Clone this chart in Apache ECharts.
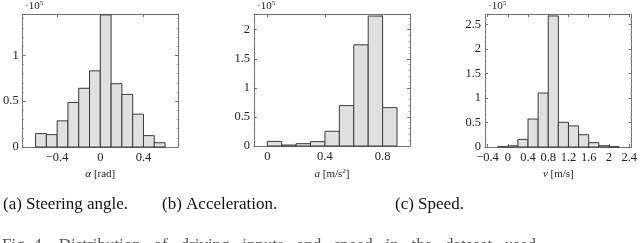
<!DOCTYPE html>
<html><head><meta charset="utf-8">
<script src="https://cdn.jsdelivr.net/npm/echarts@6/dist/echarts.min.js"></script>
<style>html,body{margin:0;padding:0;background:#fff}#c{width:640px;height:243px}</style>
</head><body><div id="c"></div>
<script>
// Steering angle histogram (counts in 1e5)
const steerEdges = [-0.6,-0.5,-0.4,-0.3,-0.2,-0.1,0,0.1,0.2,0.3,0.4,0.5,0.6];
const steerCounts = [0.146,0.135,0.285,0.485,0.64,0.83,1.44,0.69,0.573,0.358,0.124,0.047];
const steerTicks = [-0.4,0,0.4];
// Acceleration histogram
const accEdges = [0,0.1,0.2,0.3,0.4,0.5,0.6,0.7,0.8,0.9];
const accCounts = [0.08,0.017,0.04,0.075,0.253,0.695,1.74,2.235,0.66];
const accTicks = [0,0.4,0.8];
// Speed histogram
const spdEdges = [-0.2,0,0.2,0.4,0.6,0.8,1.0,1.2,1.4,1.6,1.8,2.0,2.2];
const spdCounts = [0.005,0.025,0.156,0.57,1.10,2.67,0.503,0.43,0.25,0.088,0.027,0.007];
const spdTicks = [-0.4,0,0.4,0.8,1.2,1.6,2,2.4];

const yTicksStep = 0.5;
const captions = ['(a) Steering angle.','(b) Acceleration.','(c) Speed.'];

function bins(edges, counts){ return counts.map((c,i)=>[edges[i],edges[i+1],c]); }
function fmt(v){ if (Math.abs(v)<1e-9) return '0'; return String(+v.toFixed(2)).replace('-','\u2212'); }

const panels = [
  {grid:{left:22,top:14,width:156,height:133}, xmin:-0.72, xmax:0.72, ymax:1.45, ticks:steerTicks, data:bins(steerEdges,steerCounts), name:'{i|α} [rad]'},
  {grid:{left:254,top:14,width:156,height:132}, xmin:-0.092, xmax:0.99, ymax:2.27, ticks:accTicks, data:bins(accEdges,accCounts), name:'{i|a} [m/s{sup|2}]'},
  {grid:{left:485,top:14,width:150,height:133}, xmin:-0.45, xmax:2.45, ymax:2.71, ticks:spdTicks, data:bins(spdEdges,spdCounts), name:'{i|v} [m/s]'}
];

const lineCol = '#707070';
const labelFont = {fontFamily:'Liberation Serif', fontSize:12.5, color:'#222'};
const grids=[], xAxes=[], yAxes=[], series=[], graphics=[];
panels.forEach((p,k)=>{
  grids.push(Object.assign({containLabel:false}, p.grid));
  const xBase = {gridIndex:k, type:'value', min:p.xmin, max:p.xmax,
    axisLine:{show:true,onZero:false,lineStyle:{color:lineCol,width:1}},
    axisTick:{show:true,inside:true,length:3,customValues:p.ticks,lineStyle:{color:lineCol}},
    splitLine:{show:false}};
  xAxes.push(Object.assign({}, xBase, {position:'bottom',
    axisLabel:Object.assign({show:true,margin:4,customValues:p.ticks,formatter:fmt}, labelFont),
    name:p.name, nameLocation:'middle', nameGap:19,
    nameTextStyle:{fontFamily:'Liberation Serif', fontSize:11, color:'#222',
      rich:{i:{fontFamily:'Liberation Serif',fontStyle:'italic',fontSize:11,color:'#222'},
            sup:{fontFamily:'Liberation Serif',fontSize:7,color:'#222',verticalAlign:'top',padding:[0,0,6,0]}}}}));
  xAxes.push(Object.assign({}, xBase, {position:'top', axisLabel:{show:false}}));
  const yBase = {gridIndex:k, type:'value', min:0, max:p.ymax, interval:yTicksStep,
    axisLine:{show:true,onZero:false,lineStyle:{color:lineCol,width:1}},
    axisTick:{show:true,inside:true,length:3,lineStyle:{color:lineCol}},
    minorTick:{show:true,splitNumber:5,length:1.5,lineStyle:{color:'#aaa'}},
    splitLine:{show:false}};
  yAxes.push(Object.assign({}, yBase, {position:'left',
    axisLabel:Object.assign({show:true,margin:4,showMaxLabel:false,formatter:fmt}, labelFont)}));
  yAxes.push(Object.assign({}, yBase, {position:'right', axisLabel:{show:false}}));
  series.push({type:'custom', xAxisIndex:2*k, yAxisIndex:2*k, data:p.data, encode:{x:[0,1],y:2},
    renderItem:function(params, api){
      const a = api.coord([api.value(0),0]);
      const b = api.coord([api.value(1),api.value(2)]);
      return {type:'rect', shape:{x:a[0], y:b[1], width:b[0]-a[0], height:a[1]-b[1]},
        style:{fill:'#e0e0e0', stroke:'#3a3a3a', lineWidth:1}};
    }});
  graphics.push({type:'text', left:p.grid.left+3, top:0,
    style:{text:'·10{s|5}', font:'11px "Liberation Serif"', fill:'#222',
      rich:{s:{fontSize:7,fontFamily:'Liberation Serif',verticalAlign:'top',padding:[0,0,5,0],fill:'#222'}}}});
});
const capX=[3,162,395];
captions.forEach((c,i)=>graphics.push({type:'text', left:capX[i], top:196,
  style:{text:c, font:'17px "Liberation Serif"', fill:'#111'}}));
graphics.push({type:'text', left:2, top:237,
  style:{text:'Fig. 4.   Distribution   of   driving   inputs   and   speed   in   the   dataset   used', font:'17px "Liberation Serif"', fill:'#555'}});

const chart = echarts.init(document.getElementById('c'), null, {renderer:'canvas'});
chart.setOption({animation:false, grid:grids, xAxis:xAxes, yAxis:yAxes, series:series, graphic:graphics});
</script></body></html>
